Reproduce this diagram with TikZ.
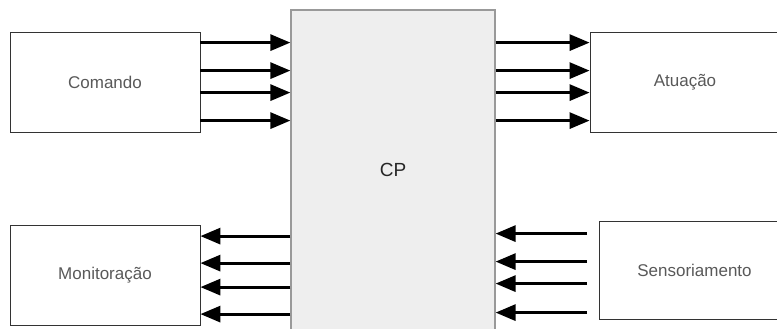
\documentclass[tikz,border=0pt]{standalone}
\usepackage{fontspec}
\setmainfont{Liberation Sans}
\usepackage{tikz}
\usetikzlibrary{arrows.meta,calc}
\definecolor{boxline}{HTML}{333333}
\definecolor{boxtext}{HTML}{595959}
\definecolor{cpfill}{HTML}{EEEEEE}
\definecolor{cpline}{HTML}{999999}

\begin{document}
\begin{tikzpicture}[
  x=1pt,y=-1pt,
  every node/.style={font=\fontsize{17}{20}\selectfont},
  blk/.style={rectangle,draw=boxline,line width=0.8pt,fill=white,text=boxtext,minimum width=190pt,minimum height=100pt,inner sep=0pt},
  core/.style={rectangle,draw=cpline,line width=1.2pt,fill=cpfill,text=black!85,minimum width=204pt,minimum height=320pt,inner sep=0pt,font=\fontsize{19}{22}\selectfont},
  sig/.style={-{Triangle[length=20pt,width=16pt]},line width=3pt,color=black}
]
\clip (0,0) rectangle (777,329);
\node[core] (cp) at (393,170) {CP};
\node[blk] (cmd) at (105,82) {Comando};
\node[blk] (act) at (685,82) {Atuação};
\node[blk] (mon) at (105,275.5) {Monitoração};
\node[blk,minimum height=98pt] (sen) at (694.5,270) {Sensoriamento};

% comandos -> CP
\foreach \o in {11,39,61,89}
  \draw[sig] ([yshift=-\o pt]cmd.north east) coordinate (s) -- (s -| cp.west);
% CP -> atuacao
\foreach \o in {11,39,61,89}
  \draw[sig] ([yshift=-\o pt]act.north west -| cp.east) coordinate (s) -- ([yshift=-\o pt]act.north west);
% CP -> monitoracao
\foreach \o in {11,38,62,89}
  \draw[sig] ([yshift=-\o pt]mon.north east -| cp.west) coordinate (s) -- ([yshift=-\o pt]mon.north east);
% sensoriamento -> CP
\foreach \o in {13,41,63,92}
  \draw[sig] ([xshift=-12pt,yshift=-\o pt]sen.north west) coordinate (s) -- (s -| cp.east);
\end{tikzpicture}
\end{document}
